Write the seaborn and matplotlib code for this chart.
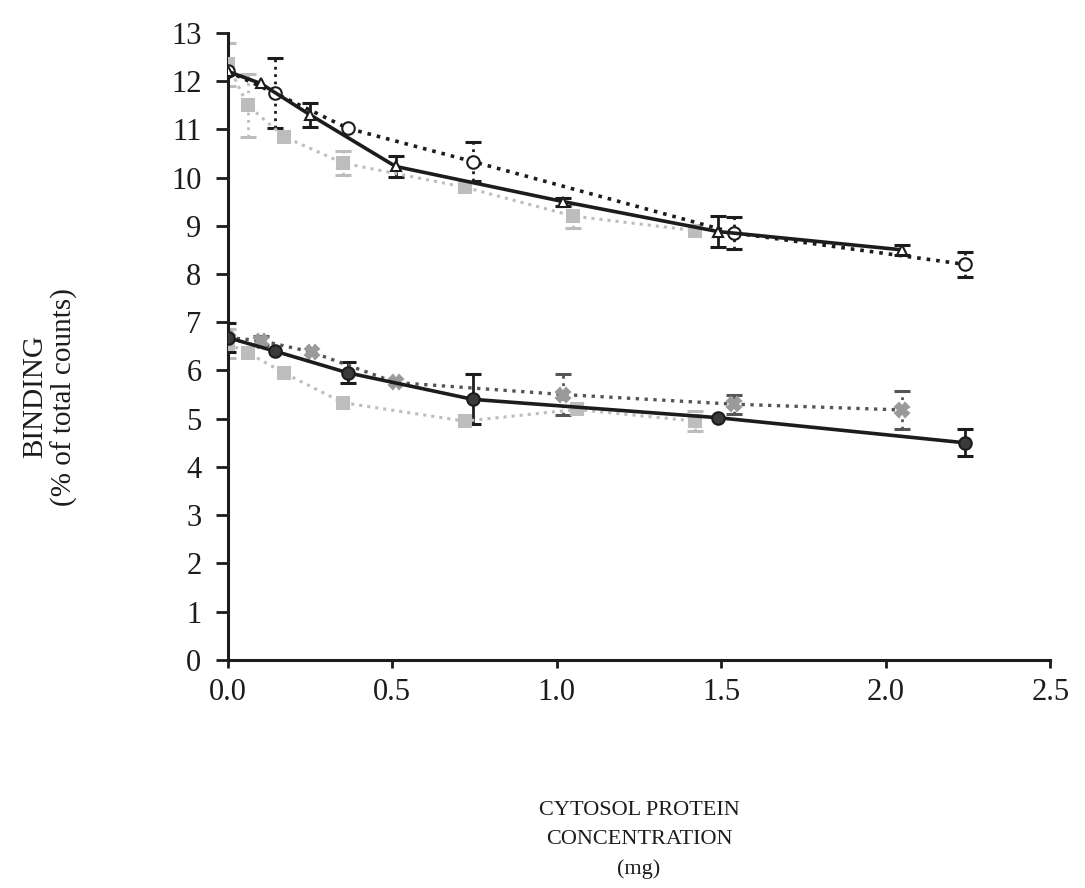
import numpy as np
import pandas as pd
import matplotlib
matplotlib.use('Agg')
import matplotlib.pyplot as plt
import seaborn as sns

# values
upper_solid_x   = [0.0, 0.10, 0.25, 0.51, 1.02, 1.49, 2.05]
upper_solid_y   = [12.2, 11.95, 11.3, 10.23, 9.5, 8.88, 8.5]
upper_solid_err = [0, 0, 0.25, 0.22, 0.08, 0.33, 0.1]

upper_dot_x   = [0.0, 0.143, 0.365, 0.745, 1.54, 2.24]
upper_dot_y   = [12.2, 11.75, 11.02, 10.33, 8.85, 8.2]
upper_dot_err = [0, 0.72, 0, 0.4, 0.33, 0.26]

upper_gray_x   = [0.0, 0.06, 0.17, 0.35, 0.72, 1.05, 1.42]
upper_gray_y   = [12.35, 11.5, 10.85, 10.3, 9.8, 9.2, 8.9]
upper_gray_err = [0.45, 0.65, 0, 0.25, 0, 0.25, 0]

lower_solid_x   = [0.0, 0.143, 0.365, 0.745, 1.49, 2.24]
lower_solid_y   = [6.68, 6.4, 5.95, 5.4, 5.02, 4.5]
lower_solid_err = [0.3, 0, 0.22, 0.52, 0, 0.28]

lower_dot_x   = [0.0, 0.10, 0.255, 0.51, 1.02, 1.54, 2.05]
lower_dot_y   = [6.68, 6.62, 6.38, 5.75, 5.5, 5.3, 5.18]
lower_dot_err = [0, 0.1, 0, 0, 0.42, 0.2, 0.4]

lower_gray_x   = [0.0, 0.06, 0.17, 0.35, 0.72, 1.06, 1.42]
lower_gray_y   = [6.55, 6.37, 5.95, 5.33, 4.95, 5.19, 4.95]
lower_gray_err = [0.3, 0, 0, 0, 0, 0, 0.2]

x_ticks = [0.0, 0.5, 1.0, 1.5, 2.0, 2.5]
y_ticks = list(range(0, 14))

sns.set_style('white')
plt.rcParams['font.family'] = ['Liberation Serif', 'DejaVu Serif']

DARK = '#1c1c1c'
GRAY = '#bdbdbd'
MGRAY = '#9a9a9a'

series = [
    # x, y, err, line colour, linestyle, lw, marker, face, edge, size
    (upper_gray_x, upper_gray_y, upper_gray_err, GRAY, ':', 2.2, 's', GRAY, GRAY, 8),
    (lower_gray_x, lower_gray_y, lower_gray_err, GRAY, ':', 2.2, 's', GRAY, GRAY, 8),
    (lower_dot_x, lower_dot_y, lower_dot_err, '#555555', ':', 2.4, 'X', MGRAY, MGRAY, 10),
    (upper_dot_x, upper_dot_y, upper_dot_err, DARK, ':', 2.6, 'o', 'white', DARK, 9),
    (upper_solid_x, upper_solid_y, upper_solid_err, DARK, '-', 2.6, '^', 'white', DARK, 7),
    (lower_solid_x, lower_solid_y, lower_solid_err, DARK, '-', 2.6, 'o', '#3a3a3a', DARK, 9),
]

fig = plt.figure(figsize=(10.85, 8.88), dpi=100)
ax = fig.add_axes([0.210, 0.257, 0.758, 0.706])

for xs, ys, errs, col, ls, lw, mk, fc, ec, ms in series:
    df = pd.DataFrame({'x': xs, 'y': ys})
    sns.lineplot(data=df, x='x', y='y', ax=ax, estimator=None, sort=False,
                 color=col, linestyle=ls, linewidth=lw, marker=mk,
                 markerfacecolor=fc, markeredgecolor=ec, markeredgewidth=1.5,
                 markersize=ms, zorder=3)
    e = np.array(errs, dtype=float)
    m = e > 0
    if m.any():
        eb = ax.errorbar(np.array(xs)[m], np.array(ys)[m], yerr=e[m], fmt='none',
                         ecolor=col, elinewidth=2, capsize=6, capthick=2.2, zorder=2)
        if ls == ':':
            for b in eb[2]:
                b.set_linestyle(':')

ax.set_xlim(0, 2.5)
ax.set_ylim(0, 13)
ax.set_xticks(x_ticks)
ax.set_xticklabels([f'{v:.1f}' for v in x_ticks])
ax.set_yticks(y_ticks)
ax.set_xlabel('')
ax.set_ylabel('')
sns.despine(ax=ax)
for s in ['left', 'bottom']:
    ax.spines[s].set_linewidth(2.2)
    ax.spines[s].set_color(DARK)
ax.tick_params(axis='y', direction='out', length=9, width=2, pad=10,
               labelsize=22, colors=DARK, left=True)
ax.tick_params(axis='x', direction='out', length=6, width=2, pad=7,
               labelsize=22, colors=DARK, bottom=True)

fig.text(0.046, 0.553, 'BINDING\n(% of total counts)', rotation=90,
         ha='center', va='center', fontsize=21, color=DARK, linespacing=1.15)
fig.text(0.589, 0.054, 'CYTOSOL PROTEIN\nCONCENTRATION\n(mg)',
         ha='center', va='center', fontsize=16, color=DARK, linespacing=1.7)

fig.savefig('out.png', dpi=100)
